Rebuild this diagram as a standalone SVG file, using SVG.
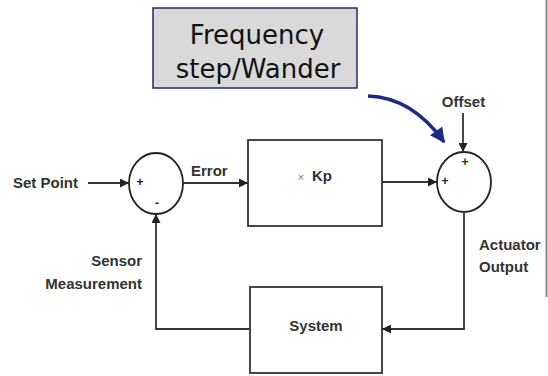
<svg xmlns="http://www.w3.org/2000/svg" width="548" height="376" viewBox="0 0 548 376">
  <defs>
    <marker id="arr" viewBox="0 0 10 10" refX="10" refY="5" markerWidth="10" markerHeight="9" markerUnits="userSpaceOnUse" orient="auto">
      <path d="M0,0 L10,5 L0,10 z" fill="#222"/>
    </marker>
    <marker id="arrBlue" viewBox="0 0 10 10" refX="9" refY="5" markerWidth="16" markerHeight="15" markerUnits="userSpaceOnUse" orient="auto">
      <path d="M0,0 L10,5 L0,10 z" fill="#1b2a83"/>
    </marker>
    <style>
      .blk { fill: #fff; stroke: #333; stroke-width: 1.8; }
      .sum { fill: #fff; stroke: #222; stroke-width: 1.8; }
      .wire { fill: none; stroke: #333; stroke-width: 1.8; }
      .lbl { font-family: "Liberation Sans", Arial, sans-serif; font-weight: bold; font-size: 15px; fill: #333; }
      .sign { font-family: "Liberation Sans", Arial, sans-serif; font-weight: bold; font-size: 12px; fill: #222; text-anchor: middle; }
      .big { font-family: "DejaVu Sans", Verdana, sans-serif; font-size: 26px; fill: #111; text-anchor: middle; }
    </style>
  </defs>

  <!-- frame edge on the right -->
  <line x1="546.5" y1="0" x2="546.5" y2="297" stroke="#888" stroke-width="2"/>

  <!-- disturbance callout -->
  <g id="callout">
    <rect x="153" y="8" width="204" height="80" fill="#d9d9d9" stroke="#1f2b6b" stroke-width="1.5"/>
    <text class="big" x="257" y="44">Frequency</text>
    <text class="big" x="258" y="78">step/Wander</text>
  </g>

  <!-- error summing junction -->
  <g id="sum1">
    <ellipse class="sum" cx="156" cy="183.5" rx="27" ry="30.5"/>
    <text class="sign" x="140" y="186">+</text>
    <text class="sign" x="157" y="207">-</text>
  </g>

  <!-- proportional gain block -->
  <g id="gain">
    <rect class="blk" x="248" y="140" width="134" height="86"/>
    <text x="301" y="181" style="font-family:'Liberation Sans',Arial,sans-serif;font-size:11px;fill:#777" text-anchor="middle">×</text>
    <text class="lbl" x="312" y="181">Kp</text>
  </g>

  <!-- output summing junction -->
  <g id="sum2">
    <ellipse class="sum" cx="464" cy="182" rx="27" ry="30"/>
    <text class="sign" x="465" y="166">+</text>
    <text class="sign" x="445" y="185">+</text>
  </g>

  <!-- plant block -->
  <g id="system">
    <rect class="blk" x="250" y="287" width="132" height="86"/>
    <text class="lbl" x="316" y="331" text-anchor="middle">System</text>
  </g>

  <!-- signal labels -->
  <g id="labels">
    <text class="lbl" x="13" y="188">Set Point</text>
    <text class="lbl" x="191" y="176">Error</text>
    <text class="lbl" x="463.5" y="107" text-anchor="middle">Offset</text>
    <text class="lbl" x="142" y="266" text-anchor="end">Sensor</text>
    <text class="lbl" x="142" y="289" text-anchor="end">Measurement</text>
    <text class="lbl" x="479" y="250">Actuator</text>
    <text class="lbl" x="479" y="272">Output</text>
  </g>

  <!-- connectors -->
  <g id="connectors">
    <line class="wire" x1="88" y1="183" x2="129" y2="183" marker-end="url(#arr)"/>
    <line class="wire" x1="183" y1="183" x2="248" y2="183" marker-end="url(#arr)"/>
    <line class="wire" x1="382" y1="182" x2="437" y2="182" marker-end="url(#arr)"/>
    <line class="wire" x1="463" y1="113" x2="463" y2="152" marker-end="url(#arr)"/>
    <polyline class="wire" points="464,212 464,329 382,329" marker-end="url(#arr)"/>
    <polyline class="wire" points="250,329 156,329 156,214" marker-end="url(#arr)"/>
    <path d="M368,96 C398,97 424,114 444,142" fill="none" stroke="#1b2a83" stroke-width="3.5" marker-end="url(#arrBlue)"/>
  </g>
</svg>
